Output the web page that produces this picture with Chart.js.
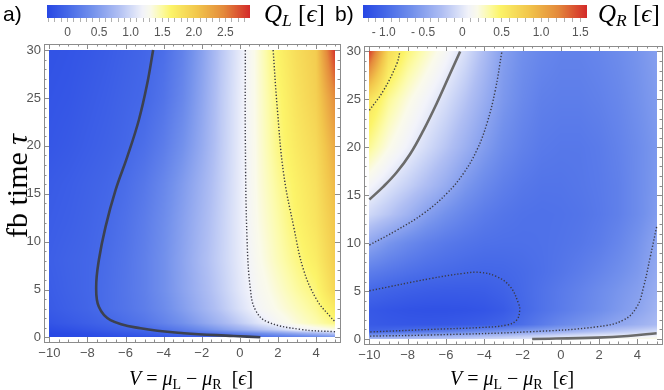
<!DOCTYPE html>
<html>
<head>
<meta charset="utf-8">
<script src="https://cdn.jsdelivr.net/npm/chart.js@4.4.0/dist/chart.umd.min.js"></script>
<style>
  body { margin: 0; background: #fff; }
  #wrap { position: relative; width: 664px; height: 390px; overflow: hidden; }
  canvas { position: absolute; }
  .lbl { position: absolute; white-space: nowrap; color: #000; line-height: 1; }
  .serif { font-family: "Liberation Serif", "DejaVu Serif", serif; }
  .sans { font-family: "Liberation Sans", "DejaVu Sans", sans-serif; }
  sub { font-size: 70%; vertical-align: -0.25em; }
</style>
</head>
<body>
<div id="wrap">
  <canvas id="barL" width="220" height="44" style="left:40px;top:0"></canvas>
  <canvas id="barR" width="240" height="44" style="left:356px;top:0"></canvas>
  <canvas id="panelL" width="345" height="372" style="left:0;top:0"></canvas>
  <canvas id="panelR" width="324" height="372" style="left:340px;top:0"></canvas>

  <div class="lbl sans" style="left:3px;top:3px;font-size:21px">a)</div>
  <div class="lbl sans" style="left:335px;top:3px;font-size:21px">b)</div>
  <div class="lbl serif" style="left:264px;top:1px;font-size:25px"><i>Q</i><sub><i>L</i></sub> [<i>ϵ</i>]</div>
  <div class="lbl serif" style="left:598px;top:1px;font-size:25px"><i>Q</i><sub><i>R</i></sub> [<i>ϵ</i>]</div>
  <div class="lbl serif" style="left:17px;top:186px;font-size:30px;transform:translate(-50%,-50%) rotate(-90deg)">fb time <i>τ</i></div>
  <div class="lbl serif" style="left:191px;top:380px;font-size:20px;transform:translate(-50%,-50%)"><i>V</i> = <i>μ</i><sub>L</sub> − <i>μ</i><sub>R</sub> &nbsp;[<i>ϵ</i>]</div>
  <div class="lbl serif" style="left:512px;top:380px;font-size:20px;transform:translate(-50%,-50%)"><i>V</i> = <i>μ</i><sub>L</sub> − <i>μ</i><sub>R</sub> &nbsp;[<i>ϵ</i>]</div>
</div>

<script>
// --- DATA ---

// bias grid (columns) shared by both maps
const vGrid = [-10, -9, -8, -7, -6, -5, -4, -3, -2, -1, 0, 1, 2, 3, 4, 5];

// Q_L map: rows at these feedback times
const tauL = [0, 0.4, 0.8, 1.5, 3, 5, 8, 12, 16, 20, 25, 30];
const qL = [
  [-0.32, -0.31, -0.30, -0.28, -0.26, -0.23, -0.20, -0.16, -0.12, -0.08, -0.04, 0.01, 0.08, 0.16, 0.25, 0.35],
  [-0.32, -0.30, -0.27, -0.22, -0.17, -0.12, -0.07, -0.02, 0.04, 0.12, 0.22, 0.33, 0.45, 0.58, 0.70, 0.85],
  [-0.28, -0.24, -0.19, -0.13, -0.07, -0.02, 0.07, 0.18, 0.32, 0.48, 0.64, 0.80, 0.95, 1.15, 1.25, 1.32],
  [-0.20, -0.15, -0.10, -0.04, 0.04, 0.12, 0.24, 0.38, 0.55, 0.72, 0.90, 1.08, 1.24, 1.36, 1.46, 1.57],
  [-0.14, -0.09, -0.04, 0.04, 0.11, 0.20, 0.33, 0.50, 0.68, 0.86, 1.05, 1.22, 1.33, 1.43, 1.53, 1.72],
  [-0.12, -0.07, -0.03, 0.04, 0.12, 0.22, 0.37, 0.55, 0.73, 0.91, 1.10, 1.26, 1.38, 1.50, 1.60, 1.90],
  [-0.10, -0.06, -0.03, 0.03, 0.11, 0.22, 0.37, 0.56, 0.76, 0.94, 1.12, 1.30, 1.44, 1.57, 1.70, 1.98],
  [-0.12, -0.09, -0.05, 0.00, 0.08, 0.19, 0.34, 0.53, 0.73, 0.93, 1.13, 1.33, 1.48, 1.64, 1.78, 2.05],
  [-0.14, -0.11, -0.07, -0.03, 0.04, 0.14, 0.29, 0.48, 0.69, 0.91, 1.13, 1.35, 1.52, 1.68, 1.82, 2.15],
  [-0.18, -0.15, -0.11, -0.07, -0.02, 0.06, 0.19, 0.38, 0.62, 0.89, 1.13, 1.36, 1.57, 1.74, 1.88, 2.25],
  [-0.20, -0.18, -0.14, -0.10, -0.05, -0.01, 0.10, 0.29, 0.57, 0.88, 1.13, 1.37, 1.60, 1.80, 1.96, 2.45],
  [-0.22, -0.20, -0.17, -0.13, -0.08, -0.03, 0.05, 0.24, 0.53, 0.86, 1.12, 1.38, 1.65, 1.85, 2.00, 2.85]
];

// Q_R map
const tauR = [0, 0.4, 0.8, 1.5, 3, 5, 7, 10, 13, 16, 20, 25, 30];
const qR = [
  [-0.30, -0.27, -0.24, -0.21, -0.18, -0.14, -0.10, -0.06, -0.02, 0.02, 0.06, 0.10, 0.13, 0.16, 0.19, 0.22],
  [-0.62, -0.58, -0.53, -0.50, -0.45, -0.40, -0.35, -0.30, -0.24, -0.18, -0.13, -0.08, -0.04, -0.01, 0.01, 0.04],
  [-1.02, -0.98, -0.92, -0.86, -0.80, -0.73, -0.67, -0.60, -0.54, -0.48, -0.40, -0.33, -0.26, -0.20, -0.14, -0.08],
  [-1.10, -1.12, -1.13, -1.13, -1.12, -1.10, -1.07, -1.02, -0.93, -0.82, -0.71, -0.62, -0.54, -0.46, -0.38, -0.30],
  [-1.12, -1.15, -1.17, -1.18, -1.18, -1.17, -1.15, -1.10, -0.99, -0.90, -0.82, -0.74, -0.66, -0.57, -0.48, -0.36],
  [-0.99, -1.03, -1.06, -1.08, -1.09, -1.09, -1.08, -1.04, -0.97, -0.90, -0.83, -0.76, -0.68, -0.60, -0.52, -0.40],
  [-0.80, -0.86, -0.91, -0.95, -0.97, -0.99, -1.00, -0.99, -0.96, -0.92, -0.87, -0.81, -0.74, -0.66, -0.57, -0.44],
  [-0.46, -0.60, -0.70, -0.78, -0.84, -0.88, -0.91, -0.92, -0.92, -0.91, -0.89, -0.86, -0.81, -0.73, -0.62, -0.48],
  [-0.10, -0.22, -0.36, -0.52, -0.64, -0.74, -0.82, -0.87, -0.90, -0.91, -0.90, -0.88, -0.84, -0.78, -0.68, -0.55],
  [0.10, -0.03, -0.15, -0.28, -0.42, -0.58, -0.70, -0.79, -0.85, -0.88, -0.88, -0.86, -0.83, -0.78, -0.68, -0.57],
  [0.38, 0.20, 0.06, -0.08, -0.22, -0.38, -0.54, -0.68, -0.77, -0.83, -0.85, -0.85, -0.82, -0.76, -0.68, -0.58],
  [0.62, 0.38, 0.22, 0.08, -0.06, -0.22, -0.40, -0.58, -0.70, -0.78, -0.80, -0.80, -0.77, -0.72, -0.64, -0.55],
  [1.50, 0.68, 0.44, 0.28, 0.12, -0.06, -0.28, -0.52, -0.65, -0.72, -0.76, -0.76, -0.73, -0.68, -0.61, -0.52]
];

// contour lines [V, tau]
const contL0 = [[-4.55, 30], [-4.86, 26.5], [-5.3, 22.7], [-5.91, 18.85], [-6.52, 15.4], [-7.05, 11.55], [-7.4, 8.08], [-7.54, 5.3], [-7.4, 3.2], [-6.79, 1.82], [-5.21, 0.96], [-2.94, 0.44], [-0.32, 0.16], [1.08, 0.02]];
const contL1 = [[0.29, 30], [0.29, 20.6], [0.38, 10.2], [0.56, 4.95], [0.82, 2.87], [1.43, 1.65], [3.18, 0.85], [5, 0.6]];
const contL2 = [[1.75, 30], [1.96, 24.1], [2.3, 17.1], [2.83, 11.55], [3.35, 7.04], [4.05, 3.9], [4.75, 2.17], [5, 1.65]];

const contR0a = [[-10, 14.55], [-9.27, 15.9], [-8.57, 17.4], [-7.87, 19.3], [-7.17, 21.8], [-6.48, 24.6], [-5.78, 27.7], [-5.26, 30]];
const contR0b = [[-1.5, 0.0], [1.9, 0.15], [3.5, 0.32], [5, 0.6]];
const contRp05 = [[-10, 23.85], [-9.27, 25.9], [-8.57, 28.7], [-8.4, 30]];
const contRm05a = [[-10, 9.8], [-8.57, 11.35], [-7.17, 13.1], [-5.95, 15.2], [-5.08, 17.3], [-4.39, 19.7], [-3.86, 22.5], [-3.43, 25.9], [-3.08, 30]];
const contRm05b = [[5, 11.7], [4.67, 8.6], [4.32, 5.45], [3.98, 3.4], [3.29, 2.0], [1.9, 1.28], [-1.6, 0.76], [-6.83, 0.42], [-10, 0.3]];
const contRm1 = [[-10, 5.03], [-6.83, 6.3], [-5.08, 6.85], [-4.21, 6.95], [-3.34, 6.5], [-2.64, 5.45], [-2.21, 3.7], [-2.15, 3.0], [-2.3, 2.0], [-2.82, 1.46], [-4.21, 1.2], [-6.83, 1.0], [-10, 0.73]];

// axis ticks
const xTicks = [-10, -8, -6, -4, -2, 0, 2, 4];
const yTicks = [0, 5, 10, 15, 20, 25, 30];
const barRangeL = [-0.32, 2.89];
const barRangeR = [-1.26, 1.585];
const barTicksL = [0, 0.5, 1, 1.5, 2, 2.5];
const barTicksR = [-1, -0.5, 0, 0.5, 1, 1.5];

// colour map stops (fraction, r, g, b)
const cmap = [
  [0.00, 40, 72, 228], [0.10, 70, 105, 232], [0.22, 115, 145, 236], [0.35, 175, 190, 243],
  [0.41, 208, 217, 247], [0.47, 242, 243, 250], [0.51, 250, 250, 234], [0.56, 252, 251, 170],
  [0.61, 252, 244, 105], [0.74, 242, 198, 76], [0.87, 228, 138, 60], [1.00, 212, 42, 42]
];

// --- HELPERS ---

function colorAt(f) {
  f = Math.max(0, Math.min(1, f));
  for (let i = 1; i < cmap.length; i++) {
    if (f <= cmap[i][0]) {
      const a = cmap[i - 1], b = cmap[i];
      const t = (f - a[0]) / (b[0] - a[0]);
      return [a[1] + (b[1] - a[1]) * t, a[2] + (b[2] - a[2]) * t, a[3] + (b[3] - a[3]) * t];
    }
  }
  return cmap[cmap.length - 1].slice(1);
}

function findCell(arr, v) {
  let i = 0;
  while (i < arr.length - 2 && v > arr[i + 1]) i++;
  const t = Math.max(0, Math.min(1, (v - arr[i]) / (arr[i + 1] - arr[i])));
  return [i, t];
}

function sample(grid, taus, v, tau) {
  const [i, s] = findCell(vGrid, v);
  const [j, t] = findCell(taus, tau);
  const a = grid[j][i] * (1 - s) + grid[j][i + 1] * s;
  const b = grid[j + 1][i] * (1 - s) + grid[j + 1][i + 1] * s;
  return a * (1 - t) + b * t;
}

const minusLabel = v => (v < 0 ? '\u2212' + Math.abs(v) : String(v));

// heat map drawn pixel by pixel through the chart scales
const heatmap = (grid, taus, range) => ({
  id: 'heatmap',
  beforeDatasetsDraw(chart) {
    const { ctx, scales: { x, y } } = chart;
    const px0 = Math.round(x.getPixelForValue(vGrid[0]));
    const px1 = Math.round(x.getPixelForValue(vGrid[vGrid.length - 1]));
    const py0 = Math.round(y.getPixelForValue(taus[taus.length - 1]));
    const py1 = Math.round(y.getPixelForValue(taus[0]));
    const w = px1 - px0, h = py1 - py0;
    const img = ctx.createImageData(w, h);
    for (let j = 0; j < h; j++) {
      const tau = y.getValueForPixel(py0 + j + 0.5);
      for (let i = 0; i < w; i++) {
        const v = x.getValueForPixel(px0 + i + 0.5);
        const c = colorAt((sample(grid, taus, v, tau) - range[0]) / (range[1] - range[0]));
        const k = (j * w + i) * 4;
        img.data[k] = c[0]; img.data[k + 1] = c[1]; img.data[k + 2] = c[2]; img.data[k + 3] = 255;
      }
    }
    ctx.putImageData(img, px0, py0);
  }
});

// Mathematica-like frame with inward ticks
const frame = {
  id: 'frame',
  afterDraw(chart) {
    const { ctx, chartArea: a, scales: { x, y } } = chart;
    ctx.save();
    ctx.strokeStyle = '#8c8c8c';
    ctx.lineWidth = 1;
    ctx.strokeRect(Math.round(a.left) + 0.5, Math.round(a.top) + 0.5, Math.round(a.width), Math.round(a.height));
    ctx.beginPath();
    for (let v = -10; v <= 5.01; v += 0.5) {
      const p = Math.round(x.getPixelForValue(v)) + 0.5;
      const len = Math.abs(v % 2) < 1e-6 ? 5 : 2.5;
      ctx.moveTo(p, a.bottom); ctx.lineTo(p, a.bottom - len);
      ctx.moveTo(p, a.top); ctx.lineTo(p, a.top + len);
    }
    for (let t = 0; t <= 30; t += 1) {
      const p = Math.round(y.getPixelForValue(t)) + 0.5;
      const len = t % 5 === 0 ? 5 : 2.5;
      ctx.moveTo(a.left, p); ctx.lineTo(a.left + len, p);
      ctx.moveTo(a.right, p); ctx.lineTo(a.right - len, p);
    }
    ctx.stroke();
    ctx.restore();
  }
};

function contour(pts, dotted, color) {
  return {
    data: pts.map(([x, y]) => ({ x, y })),
    showLine: true,
    pointRadius: 0,
    borderColor: color,
    borderWidth: dotted ? 1.4 : 2.6,
    borderDash: dotted ? [1.3, 1.9] : [],
    borderCapStyle: 'butt',
    tension: 0.4
  };
}

const tickFont = { family: '"Liberation Sans", "DejaVu Sans", sans-serif', size: 13 };

function panel(canvasId, grid, taus, range, datasets, g) {
  return new Chart(document.getElementById(canvasId), {
    type: 'scatter',
    data: { datasets },
    options: {
      responsive: false,
      animation: false,
      events: [],
      layout: { padding: { left: g.padL, top: g.padT, right: g.padR, bottom: g.padB } },
      plugins: { legend: { display: false }, tooltip: { enabled: false } },
      scales: {
        x: {
          type: 'linear', min: g.xMin, max: g.xMax,
          afterBuildTicks: s => { s.ticks = xTicks.map(value => ({ value })); },
          afterFit: s => { s.height = 22; },
          grid: { display: false, drawTicks: false }, border: { display: false },
          ticks: { color: '#555', font: tickFont, padding: 4, autoSkip: false, maxRotation: 0, callback: minusLabel }
        },
        y: {
          type: 'linear', min: g.yMin, max: g.yMax,
          afterBuildTicks: s => { s.ticks = yTicks.map(value => ({ value })); },
          afterFit: s => { s.width = g.yW; },
          grid: { display: false, drawTicks: false }, border: { display: false },
          ticks: { color: '#555', font: tickFont, padding: 3, autoSkip: false, callback: minusLabel }
        }
      }
    },
    plugins: [heatmap(grid, taus, range), frame]
  });
}

// colour bar legend: a chart whose area is filled along its own x scale
function colorBar(canvasId, range, majors, fmt, g) {
  const ticks = [];
  for (let v = Math.ceil(range[0] * 10) / 10; v <= range[1] + 1e-9; v += 0.1) ticks.push(Math.round(v * 10) / 10);
  const fill = {
    id: 'fill',
    beforeDatasetsDraw(chart) {
      const { ctx, chartArea: a, scales: { x } } = chart;
      for (let p = Math.floor(a.left); p < Math.ceil(a.right); p++) {
        const c = colorAt((x.getValueForPixel(p + 0.5) - range[0]) / (range[1] - range[0]));
        ctx.fillStyle = `rgb(${c[0] | 0},${c[1] | 0},${c[2] | 0})`;
        ctx.fillRect(p, a.top, 1, a.height);
      }
    }
  };
  return new Chart(document.getElementById(canvasId), {
    type: 'scatter',
    data: { datasets: [] },
    options: {
      responsive: false,
      animation: false,
      events: [],
      layout: { padding: { left: g.padL, top: 5, right: g.padR, bottom: 2 } },
      plugins: { legend: { display: false }, tooltip: { enabled: false } },
      scales: {
        x: {
          type: 'linear', min: range[0], max: range[1],
          afterBuildTicks: s => { s.ticks = ticks.map(value => ({ value })); },
          afterFit: s => { s.height = 24; },
          border: { display: false },
          grid: { drawOnChartArea: false, drawTicks: true, tickLength: 4, color: '#b0b0b0' },
          ticks: {
            color: '#555', font: { family: tickFont.family, size: 12 }, padding: 3, autoSkip: false, maxRotation: 0,
            callback: v => (majors.some(m => Math.abs(m - v) < 1e-6) ? fmt(v) : '')
          }
        },
        y: { display: false, min: 0, max: 1 }
      }
    },
    plugins: [fill]
  });
}

// --- RENDER ---

const dark = '#3c4150', gray = '#6b6b6b', dot = '#3a3a44';

panel('panelL', qL, tauL, barRangeL, [
  contour(contL0, false, dark),
  contour(contL1, true, dot),
  contour(contL2, true, dot)
], { padL: 16, padT: 44, padR: 5, padB: 372 - 342 - 22, yW: 28, xMin: -10.28, xMax: 5.26, yMin: -0.47, yMax: 30.63 });

panel('panelR', qR, tauR, barRangeR, [
  contour(contR0a, false, gray),
  contour(contR0b, false, gray),
  contour(contRp05, true, dot),
  contour(contRm05a, true, dot),
  contour(contRm05b, true, dot),
  contour(contRm1, true, dot)
], { padL: 4, padT: 46, padR: 2, padB: 372 - 344 - 22, yW: 20, xMin: -10.28, xMax: 5.28, yMin: -0.52, yMax: 30.57 });

colorBar('barL', barRangeL, barTicksL, v => (v === 0 ? '0' : v.toFixed(1)), { padL: 7.3, padR: 10 });
colorBar('barR', barRangeR, barTicksR, v => (v === 0 ? '0' : (v < 0 ? '- ' + Math.abs(v).toFixed(1) : v.toFixed(1))), { padL: 7.3, padR: 9 });
</script>
</body>
</html>
